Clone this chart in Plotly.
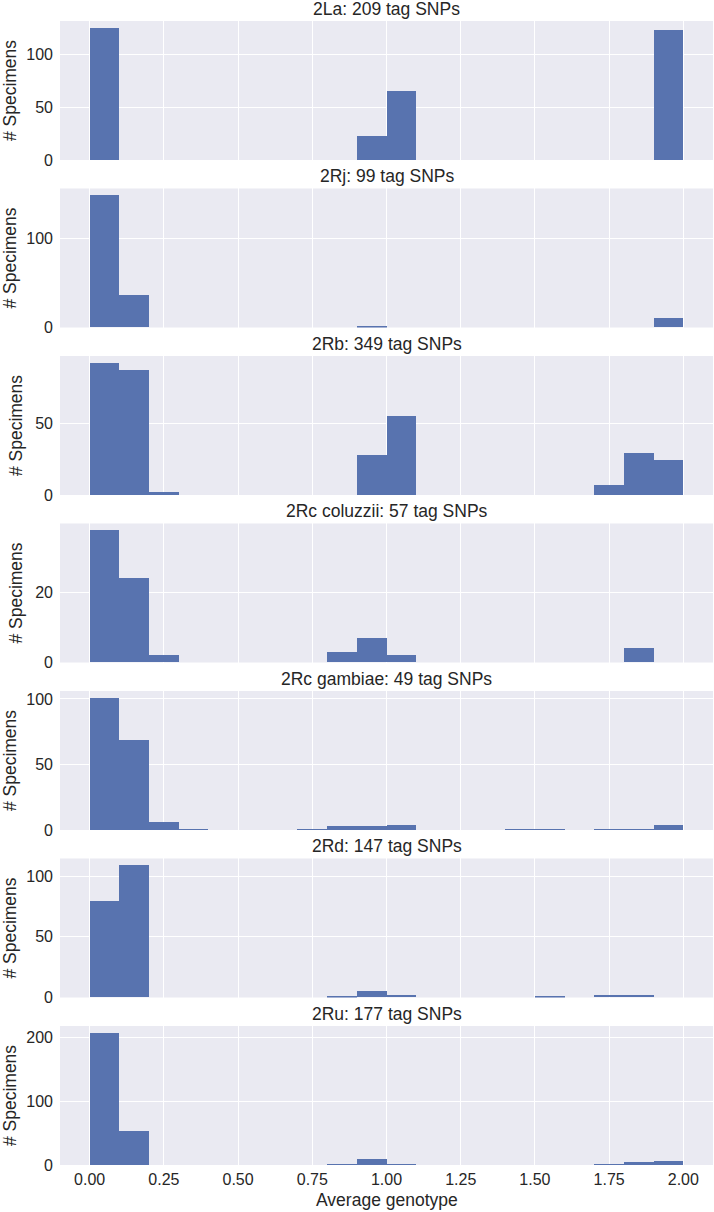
import plotly.graph_objects as go
from plotly.subplots import make_subplots

bin_left = [0.0, 0.1, 0.2, 0.3, 0.4, 0.5, 0.6, 0.7, 0.8, 0.9,
            1.0, 1.1, 1.2, 1.3, 1.4, 1.5, 1.6, 1.7, 1.8, 1.9]
bin_width = 0.1

titles = ["2La: 209 tag SNPs", "2Rj: 99 tag SNPs", "2Rb: 349 tag SNPs",
          "2Rc coluzzii: 57 tag SNPs", "2Rc gambiae: 49 tag SNPs",
          "2Rd: 147 tag SNPs", "2Ru: 177 tag SNPs"]

counts_2La = [125, 0, 0, 0, 0, 0, 0, 0, 0, 23, 65, 0, 0, 0, 0, 0, 0, 0, 0, 123]
counts_2Rj = [148, 36, 0, 0, 0, 0, 0, 0, 0, 1, 0, 0, 0, 0, 0, 0, 0, 0, 0, 10]
counts_2Rb = [92, 87, 2, 0, 0, 0, 0, 0, 0, 28, 55, 0, 0, 0, 0, 0, 0, 7, 29, 24]
counts_2Rc_col = [38, 24, 2, 0, 0, 0, 0, 0, 3, 7, 2, 0, 0, 0, 0, 0, 0, 0, 4, 0]
counts_2Rc_gam = [101, 69, 6, 1, 0, 0, 0, 1, 3, 3, 4, 0, 0, 0, 1, 1, 0, 1, 1, 4]
counts_2Rd = [79, 109, 0, 0, 0, 0, 0, 0, 1, 5, 2, 0, 0, 0, 0, 1, 0, 2, 2, 0]
counts_2Ru = [207, 53, 0, 0, 0, 0, 0, 0, 1, 10, 1, 0, 0, 0, 0, 0, 0, 2, 4, 7]

all_counts = [counts_2La, counts_2Rj, counts_2Rb, counts_2Rc_col,
              counts_2Rc_gam, counts_2Rd, counts_2Ru]
y_dticks = [50, 100, 50, 20, 50, 50, 100]

x_ticks = [0.0, 0.25, 0.5, 0.75, 1.0, 1.25, 1.5, 1.75, 2.0]
x_label = "Average genotype"

FONT = "Liberation Sans, Arial, sans-serif"
BAR = "#5873af"
BG = "#eaeaf2"
TXT = "#262626"

W, H = 714, 1212
M_T, M_B = 21, 47

fig = make_subplots(rows=7, cols=1, shared_xaxes=True,
                    vertical_spacing=0.0249, subplot_titles=titles)

for i, counts in enumerate(all_counts):
    centers = [b + bin_width / 2 for b in bin_left]
    fig.add_trace(go.Bar(x=centers, y=counts, width=bin_width,
                         marker=dict(color=BAR, line=dict(width=0)),
                         showlegend=False, hoverinfo="x+y"),
                  row=i + 1, col=1)
    ymax = max(counts) * 1.05
    fig.update_yaxes(range=[0, ymax], dtick=y_dticks[i], tick0=0,
                     title_text="# Specimens", row=i + 1, col=1)

fig.update_xaxes(range=[-0.1, 2.1], tickvals=x_ticks, tickformat=".2f",
                 showgrid=True, gridcolor="white", gridwidth=1,
                 zeroline=False, ticks="", showline=False,
                 ticklabelstandoff=3,
                 tickfont=dict(size=16, color=TXT))
fig.update_yaxes(showgrid=True, gridcolor="white", gridwidth=1,
                 zeroline=False, ticks="", showline=False,
                 automargin=False, ticklabelstandoff=6,
                 tickfont=dict(size=16, color=TXT),
                 title_font=dict(size=17.5, color=TXT),
                 title_standoff=8)

for ann in fig.layout.annotations:
    ann.font = dict(size=17.5, color=TXT, family=FONT)
    ann.yshift = 0

# x-axis label placed below the bottom panel's tick labels
plot_h = H - M_T - M_B
fig.add_annotation(text=x_label, xref="paper", yref="paper",
                   x=0.5, y=-35 / plot_h, xanchor="center", yanchor="middle",
                   showarrow=False, font=dict(size=17.5, color=TXT, family=FONT))

fig.update_layout(width=W, height=H, bargap=0,
                  plot_bgcolor=BG, paper_bgcolor="white",
                  font=dict(family=FONT, size=16, color=TXT),
                  margin=dict(l=60, r=1, t=M_T, b=M_B))

fig.write_html("out.html",
               config={"displayModeBar": False},
               post_script="document.body.style.margin='0';"
                           "document.body.style.overflow='hidden';")
